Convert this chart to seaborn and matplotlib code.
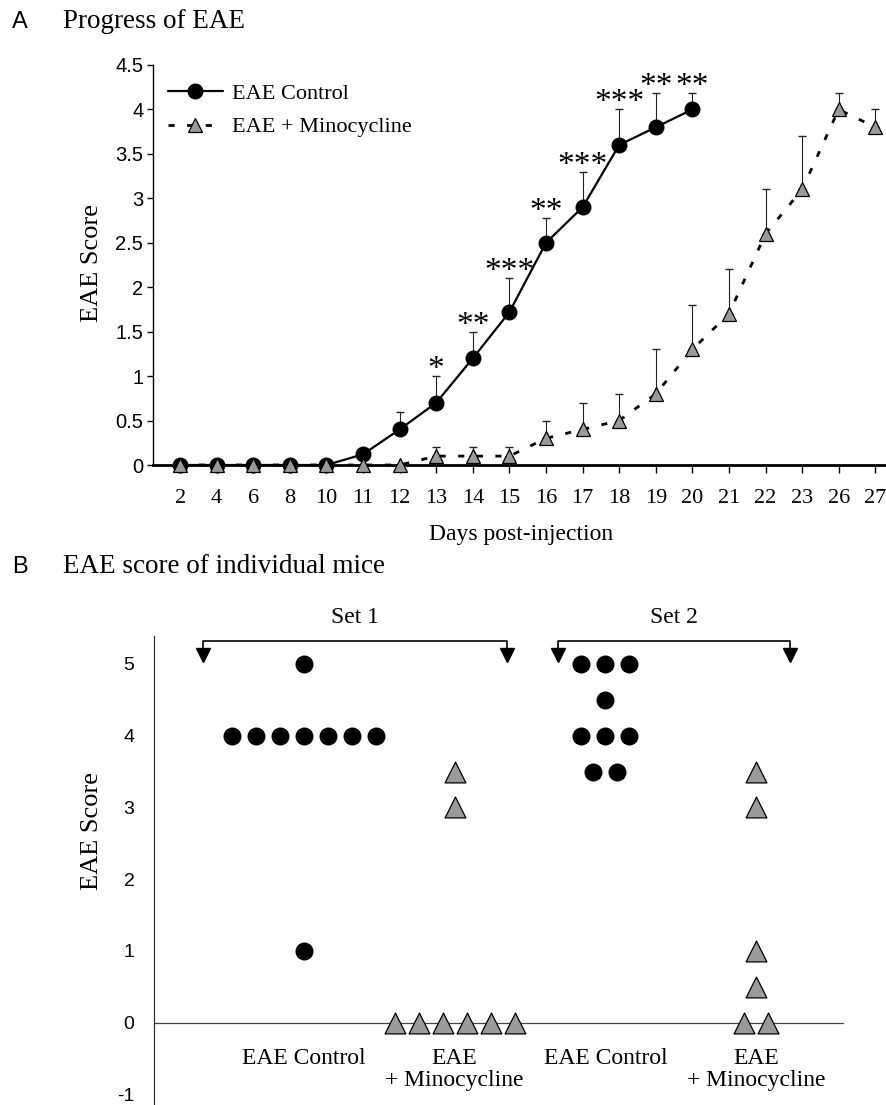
import numpy as np
import pandas as pd
import matplotlib
matplotlib.use("Agg")
import matplotlib.pyplot as plt
import seaborn as sns

# ---------------- data: panel A ----------------
days = [2, 4, 6, 8, 10, 11, 12, 13, 14, 15, 16, 17, 18, 19, 20, 21, 22, 23, 26, 27]
control_days = [2, 4, 6, 8, 10, 11, 12, 13, 14, 15, 16, 17, 18, 19, 20]
control_mean = [0, 0, 0, 0, 0, 0.12, 0.4, 0.7, 1.2, 1.72, 2.5, 2.9, 3.6, 3.8, 4.0]
control_err = [0, 0, 0, 0, 0, 0, 0.2, 0.3, 0.3, 0.38, 0.28, 0.4, 0.4, 0.38, 0.18]
mino_mean = [0, 0, 0, 0, 0, 0, 0, 0.1, 0.1, 0.1, 0.3, 0.4, 0.5, 0.8, 1.3, 1.7, 2.6, 3.1, 4.0, 3.8]
mino_err = [0, 0, 0, 0, 0, 0, 0, 0.1, 0.1, 0.1, 0.2, 0.3, 0.3, 0.5, 0.5, 0.5, 0.5, 0.6, 0.18, 0.2]
sig_days = [13, 14, 15, 16, 17, 18, 19, 20]
sig_labels = ["*", "**", "***", "**", "***", "***", "**", "**"]
y_ticks_a = [0, 0.5, 1, 1.5, 2, 2.5, 3, 3.5, 4, 4.5]

# ---------------- data: panel B ----------------
set1_control = [5, 4, 4, 4, 4, 4, 4, 4, 1]
set1_mino = [3.5, 3, 0, 0, 0, 0, 0, 0]
set2_control = [5, 5, 5, 4.5, 4, 4, 4, 3.5, 3.5]
set2_mino = [3.5, 3, 1, 0.5, 0, 0]
group_labels = ["EAE Control", "EAE\n+ Minocycline", "EAE Control", "EAE\n+ Minocycline"]
set_labels = ["Set 1", "Set 2"]
y_ticks_b = [-1, 0, 1, 2, 3, 4, 5]

sns.set_theme(style="ticks", rc={"axes.edgecolor": "black", "text.color": "black",
                                 "xtick.color": "black", "ytick.color": "black"})
plt.rcParams["font.family"] = ["Liberation Serif", "DejaVu Serif"]
SANS = ["Liberation Sans", "DejaVu Sans"]

W, H = 887, 1105
fig = plt.figure(figsize=(W / 100, H / 100), dpi=100)

# ================= Panel A =================
axA = fig.add_axes([153 / W, 1 - 465 / H, (W - 153) / W, 400 / H])
pos = {d: i for i, d in enumerate(days)}
dfc = pd.DataFrame({"x": [pos[d] for d in control_days], "y": control_mean, "e": control_err})
dfm = pd.DataFrame({"x": [pos[d] for d in days], "y": mino_mean, "e": mino_err})

for df in (dfc, dfm):
    sub = df[df["e"] > 0]
    axA.errorbar(sub["x"], sub["y"], yerr=[np.zeros(len(sub)), sub["e"]], fmt="none",
                 ecolor="#222222", elinewidth=0.8, capsize=2.9, capthick=1.0, zorder=1,
                 clip_on=False)

sns.lineplot(data=dfc, x="x", y="y", ax=axA, color="black", linewidth=1.6,
             marker="o", markersize=11.5, markerfacecolor="black",
             markeredgecolor="black", markeredgewidth=0, clip_on=False,
             label="EAE Control", zorder=3)
sns.lineplot(data=dfm, x="x", y="y", ax=axA, color="black", linewidth=2.0,
             linestyle=(0, (2.2, 4.5)), marker="^", markersize=10.5,
             markerfacecolor="#9a9a9a", markeredgecolor="black", markeredgewidth=0.9,
             clip_on=False, label="EAE + Minocycline", zorder=4)

for d, lab in zip(sig_days, sig_labels):
    i = control_days.index(d)
    axA.text(pos[d], control_mean[i] + control_err[i] + 0.07, lab, ha="center",
             va="center", fontsize=24)

axA.set_xlim(-0.74, 19.32)
axA.set_ylim(0, 4.5)
axA.set_xticks(range(len(days)), [str(d) for d in days], fontsize=16)
axA.set_yticks(y_ticks_a, [f"{v:g}" for v in y_ticks_a], fontsize=14.5, fontfamily=SANS)
axA.tick_params(axis="x", direction="out", length=6, width=1, pad=11, bottom=True)
axA.tick_params(axis="y", direction="out", length=4, width=1, pad=3, left=True)
axA.set_xlabel("")
axA.set_ylabel("")
for s in ("top", "right"):
    axA.spines[s].set_visible(False)
axA.spines["bottom"].set_linewidth(2.0)
axA.spines["left"].set_linewidth(1.0)

leg = axA.legend(loc="upper left", bbox_to_anchor=(0.02, 0.955), frameon=False,
                 fontsize=16, handlelength=2.5, handletextpad=0.4, labelspacing=0.6,
                 borderaxespad=0, borderpad=0)

fig.text(521 / W, 1 - 534 / H, "Days post-injection", ha="center", va="center", fontsize=17)
fig.text(92 / W, 1 - 263 / H, "EAE Score", ha="center", va="center", rotation=90, fontsize=19)
fig.text(20 / W, 1 - 28 / H, "A", ha="center", va="baseline", fontsize=17, fontfamily=SANS)
fig.text(63 / W, 1 - 28 / H, "Progress of EAE", ha="left", va="baseline", fontsize=19.5)

# ================= Panel B =================
axB = fig.add_axes([154 / W, 0, (W - 154) / W, 469 / H])


def dot_offsets(values, step):
    vals = np.asarray(values, dtype=float)
    off = np.zeros(len(vals))
    for v in np.unique(vals):
        idx = np.where(vals == v)[0]
        off[idx] = (np.arange(len(idx)) - (len(idx) - 1) / 2) * step
    return off


step = 0.159
rows = []
for gi, (vals, kind) in enumerate([(set1_control, "control"), (set1_mino, "mino"),
                                   (set2_control, "control"), (set2_mino, "mino")]):
    offs = dot_offsets(vals, step)
    for v, o in zip(vals, offs):
        rows.append({"group": gi, "x": gi + o, "score": v, "kind": kind})
dfB = pd.DataFrame(rows)

axB.axhline(0, xmin=0, xmax=0.94, color="#444444", linewidth=0.9, zorder=1)

sns.scatterplot(data=dfB[dfB["kind"] == "control"], x="x", y="score", ax=axB,
                marker="o", s=168, color="black", linewidth=0, clip_on=False,
                legend=False, zorder=3)
sns.scatterplot(data=dfB[dfB["kind"] == "mino"], x="x", y="score", ax=axB,
                marker="^", s=225, color="#9a9a9a", edgecolor="black", linewidth=0.9,
                clip_on=False, legend=False, zorder=3)

for gi, lab in enumerate(group_labels):
    axB.text(gi, -0.35, lab, ha="center", va="top", fontsize=17, linespacing=1.1)

bracket_spans = [(-0.67, 1.35), (1.685, 3.225)]
for (x0, x1), lab in zip(bracket_spans, set_labels):
    axB.plot([x0, x0, x1, x1], [5.2, 5.32, 5.32, 5.2], color="black", linewidth=1.2,
             clip_on=False)
    axB.plot([x0, x1], [5.12, 5.12], linestyle="none", marker="v", markersize=9.5,
             color="black", clip_on=False)
    axB.text((x0 + x1) / 2, 5.65, lab, ha="center", va="center", fontsize=17)

axB.set_xlim(-0.995, 3.869)
axB.set_ylim(-1.15, 5.39)
axB.set_xticks([])
axB.set_yticks(y_ticks_b, [str(v) for v in y_ticks_b], fontsize=14, fontfamily=SANS)
axB.tick_params(axis="y", length=0, pad=14)
axB.set_xlabel("")
axB.set_ylabel("")
for s in ("top", "right", "bottom"):
    axB.spines[s].set_visible(False)
axB.spines["left"].set_linewidth(0.9)
axB.spines["left"].set_color("#333333")

fig.text(92 / W, 1 - 831 / H, "EAE Score", ha="center", va="center", rotation=90, fontsize=19)
fig.text(20 / W, 1 - 573 / H, "B", ha="center", va="baseline", fontsize=17, fontfamily=SANS)
fig.text(63 / W, 1 - 573 / H, "EAE score of individual mice", ha="left", va="baseline",
         fontsize=19.5)

fig.savefig("out.png", dpi=100)
